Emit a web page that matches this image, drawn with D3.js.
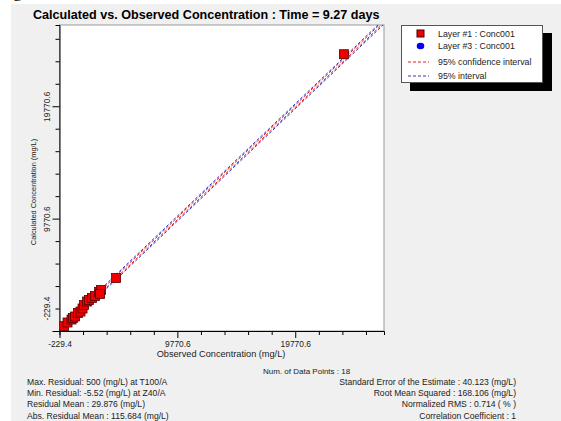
<!DOCTYPE html>
<html><head><meta charset="utf-8">
<script src="https://cdn.jsdelivr.net/npm/d3@7/dist/d3.min.js"></script>
<style>body{margin:0;background:#fff}text{font-family:"Liberation Sans",Arial,sans-serif}</style>
</head><body><svg id="c" width="561" height="421"></svg>
<script>
// ---- data ----
const observed   = [150, 451, 790, 918, 1088, 1343, 1550, 1725, 1852, 2107, 2277, 2532, 2787, 3127, 3297, 3212, 4571, 23900];
const calculated = [200, 527, 793, 927, 1060, 1371, 1500, 1771, 2082, 2393, 2527, 2704, 2882, 3238, 3415, 3060, 4482, 24400];
const lineX      = [-229.4, 27300];
const ciUpper    = [-129.4, 27400];
const ciLower    = [-329.4, 27200];
const piUpper    = [-9.4, 27520];
const piLower    = [-449.4, 27080];
const tickVals   = [-229.4, 1770.6, 3770.6, 5770.6, 7770.6, 9770.6, 11770.6, 13770.6, 15770.6, 17770.6, 19770.6, 21770.6, 23770.6, 25770.6];
const tickLabels = ["-229.4", "9770.6", "19770.6"];
const legendLabels = ["Layer #1 : Conc001", "Layer #3 : Conc001", "95% confidence interval", "95% interval"];
const titleText  = "Calculated vs. Observed Concentration : Time = 9.27 days";
const leftStats  = ["Max. Residual: 500 (mg/L) at T100/A", "Min. Residual: -5.52 (mg/L) at Z40/A", "Residual Mean : 29.876 (mg/L)", "Abs. Residual Mean : 115.684 (mg/L)"];
const rightStats = ["Standard Error of the Estimate : 40.123 (mg/L)", "Root Mean Squared : 168.106 (mg/L)", "Normalized RMS : 0.714 ( % )", "Correlation Coefficient : 1"];
const numPoints  = "Num. of Data Points : 18";

const svg = d3.select("#c");
svg.append("rect").attr("x",11).attr("y",4).attr("width",550).attr("height",417).attr("fill","#f0f0f0");
svg.append("text").attr("x",4).attr("y",-3).attr("font-size",18).style("font-family","Liberation Serif,serif").text("ng");

const L=59.5, R=384, T=25, B=331;
const x = d3.scaleLinear().domain([-229.4, 27300]).range([L, R]);
const y = d3.scaleLinear().domain([-229.4, 27000]).range([B, T]);

svg.append("rect").attr("x",L).attr("y",T).attr("width",R-L).attr("height",B-T).attr("fill","#fff").attr("stroke","#999").attr("stroke-width",1);
svg.append("defs").append("clipPath").attr("id","clip").append("rect").attr("x",L).attr("y",T).attr("width",R-L).attr("height",B-T);

svg.append("text").attr("x",33).attr("y",19).attr("font-size",12.6).attr("font-weight","bold").text(titleText);

// axes
const fmt = d => tickLabels.find(s => Math.abs(+s - d) < 0.01) || "";
const gx = svg.append("g").attr("transform",`translate(0,${B})`)
  .call(d3.axisBottom(x).tickValues(tickVals).tickSize(4).tickFormat(fmt));
gx.selectAll("line").attr("stroke","#000").attr("y2", d=>fmt(d)?7:4);
gx.select(".domain").attr("stroke","#000");
gx.selectAll("text").attr("font-size",8.4).attr("y",10).attr("fill","#222").style("font-family","Liberation Sans,Arial,sans-serif");

const gy = svg.append("g").attr("transform",`translate(${L},0)`)
  .call(d3.axisLeft(y).tickValues(tickVals).tickSize(4).tickFormat(fmt));
gy.selectAll("line").attr("stroke","#000").attr("x2", d=>fmt(d)?-7:-4);
gy.select(".domain").attr("stroke","#000");
gy.selectAll("text").attr("font-size",8.4).attr("fill","#222").attr("x",0).attr("dy",0).attr("text-anchor","middle")
  .style("font-family","Liberation Sans,Arial,sans-serif")
  .attr("transform", (d,i)=> `translate(-10,${i===0?-23:0}) rotate(-90)`);

svg.append("text").attr("x",221).attr("y",357).attr("text-anchor","middle").attr("font-size",9.2).attr("fill","#222").text("Observed Concentration (mg/L)");
svg.append("text").attr("transform","translate(36,192) rotate(-90)").attr("text-anchor","middle").attr("font-size",7.4).attr("fill","#222").text("Calculated Concentration (mg/L)");

// lines
const pg = svg.append("g").attr("clip-path","url(#clip)");
const ln = d3.line().x(d=>x(d[0])).y(d=>y(d[1]));
[[piUpper,"#3333cc"],[piLower,"#3333cc"],[ciUpper,"#e02020"],[ciLower,"#e02020"]].forEach(([arr,c],i)=>{
  pg.append("path").attr("d", ln(lineX.map((v,k)=>[v,arr[k]]))).attr("fill","none")
    .attr("stroke",c).attr("stroke-width",1).attr("stroke-dasharray","3,2").attr("stroke-dashoffset",i%2?0:2.5);
});

// points
pg.selectAll("rect.pt").data(observed).enter().append("rect").attr("class","pt")
  .attr("x",(d,i)=>x(d)-4.5).attr("y",(d,i)=>y(calculated[i])-4.5).attr("width",9).attr("height",9)
  .attr("fill","#ee0000").attr("stroke","#5a0000").attr("stroke-width",0.8);

// legend
svg.append("rect").attr("x",410).attr("y",33).attr("width",142).attr("height",58).attr("fill","#000");
svg.append("rect").attr("x",401.5).attr("y",25.5).attr("width",141).attr("height",57).attr("fill","#fff").attr("stroke","#555");
const ly = [34, 46, 62, 76];
svg.append("rect").attr("x",417).attr("y",30).attr("width",7).attr("height",7).attr("fill","#ee0000").attr("stroke","#400");
svg.append("ellipse").attr("cx",420.5).attr("cy",46).attr("rx",3.8).attr("ry",3.3).attr("fill","#0000ee");
svg.append("line").attr("x1",408).attr("x2",429).attr("y1",62).attr("y2",62).attr("stroke","#e02020").attr("stroke-dasharray","3,2");
svg.append("line").attr("x1",408).attr("x2",429).attr("y1",76).attr("y2",76).attr("stroke","#3333cc").attr("stroke-dasharray","3,2");
legendLabels.forEach((t,i)=> svg.append("text").attr("x",438).attr("y",ly[i]+3).attr("font-size",8.8).attr("fill","#222").text(t));

// stats
svg.append("text").attr("x",263).attr("y",374).attr("font-size",8).attr("fill","#222").text(numPoints);
leftStats.forEach((t,i)=> svg.append("text").attr("x",27).attr("y",384.5+i*11.4).attr("font-size",8.6).attr("fill","#222").text(t));
rightStats.forEach((t,i)=> svg.append("text").attr("x",516).attr("y",384.5+i*11.4).attr("text-anchor","end").attr("font-size",8.6).attr("fill","#222").text(t));
</script></body></html>
